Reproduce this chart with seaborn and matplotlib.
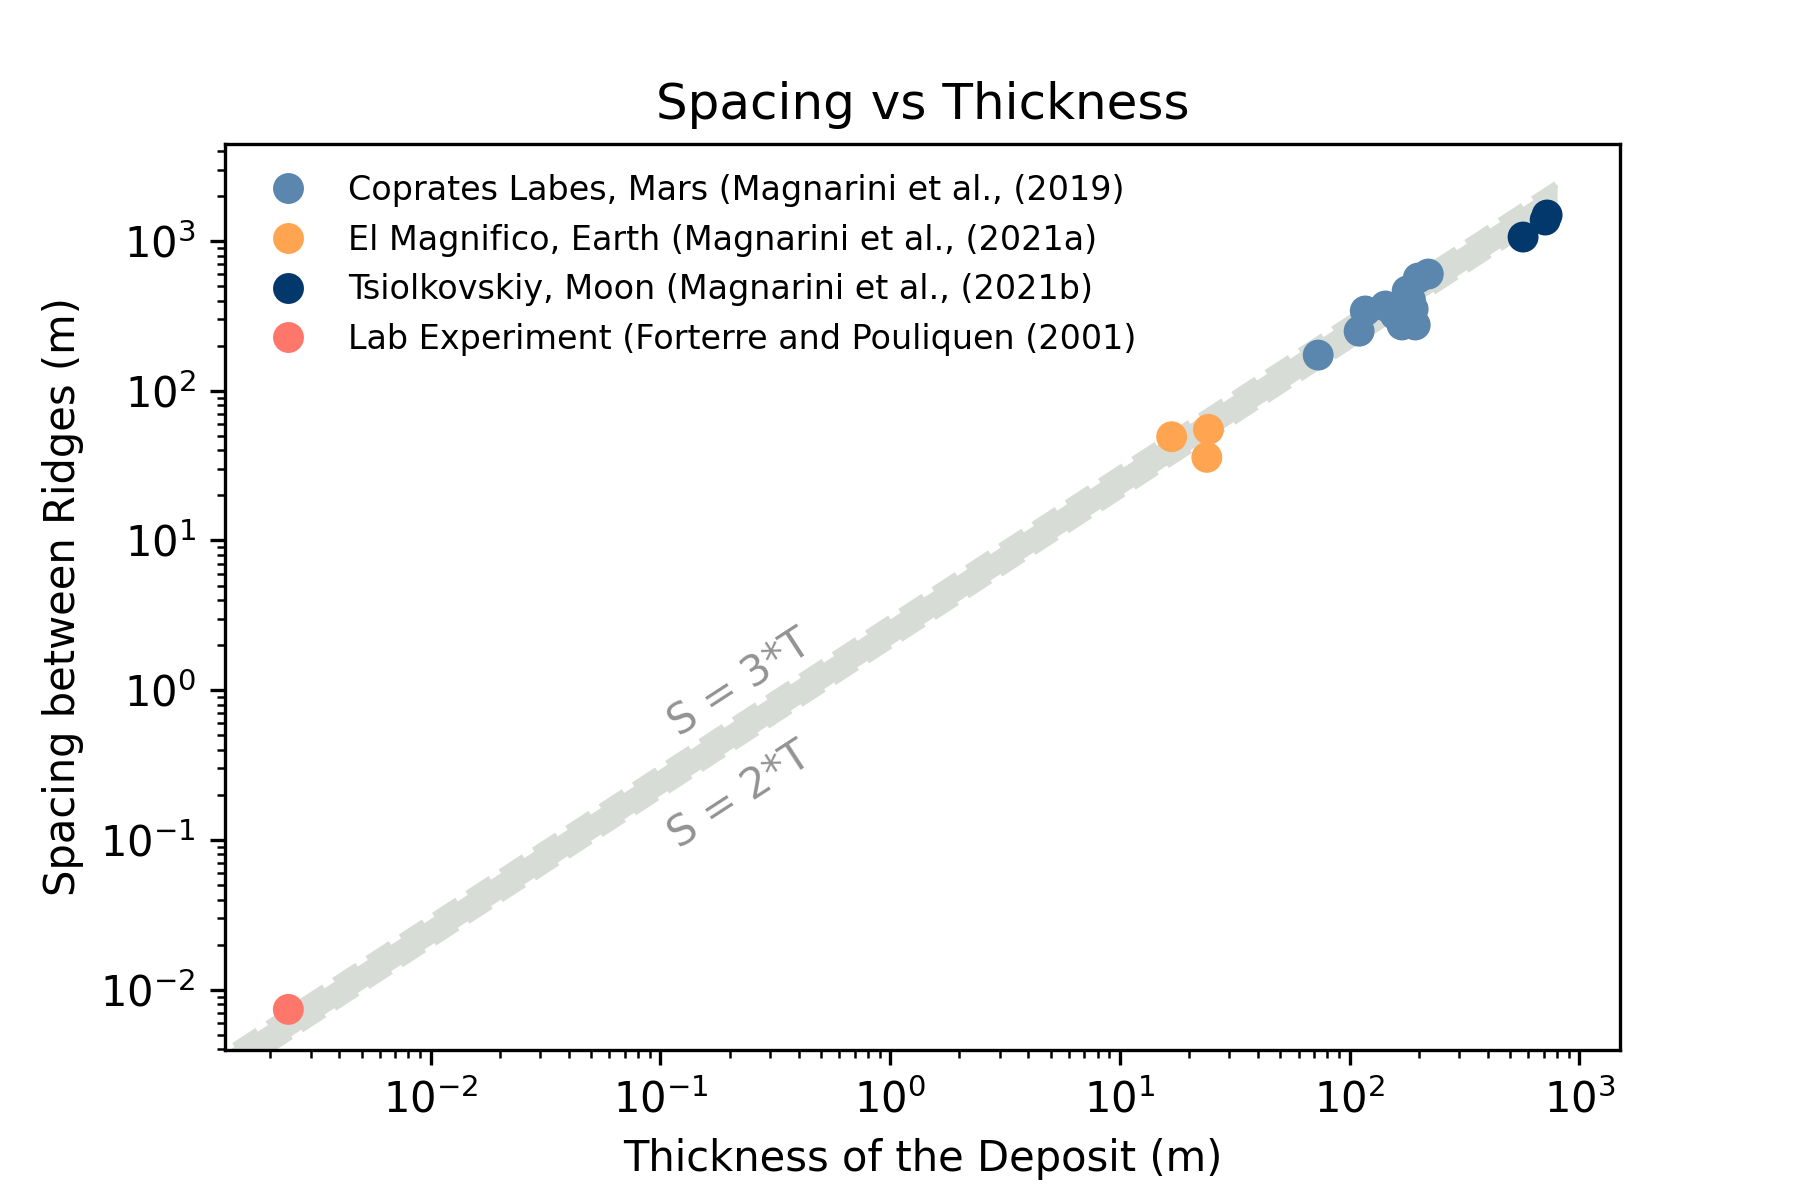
import numpy as np
import pandas as pd
import seaborn as sns
import matplotlib.pyplot as plt

# thickness (m) and ridge spacing (m)
mars_thickness = [73, 110, 117, 143, 158, 169, 184, 193, 189, 178, 199, 220]
mars_spacing = [173, 250, 341, 368, 321, 275, 404, 275, 351, 464, 566, 602]

earth_thickness = [16.8, 24.3, 23.9]
earth_spacing = [49.3, 55.2, 35.9]

moon_thickness = [569, 710, 724]
moon_spacing = [1063, 1381, 1492]

lab_thickness = [0.0024]
lab_spacing = [0.00738]

labels = [
    "Coprates Labes, Mars (Magnarini et al., (2019)",
    "El Magnifico, Earth (Magnarini et al., (2021a)",
    "Tsiolkovskiy, Moon (Magnarini et al., (2021b)",
    "Lab Experiment (Forterre and Pouliquen (2001)",
]
colors = ["#5b86ad", "#ffa552", "#03386c", "#ff766b"]

# range of the S = 2T .. S = 3T band
band_t = np.array([0.001, 800])

df = pd.concat([
    pd.DataFrame({"T": mars_thickness, "S": mars_spacing, "site": labels[0]}),
    pd.DataFrame({"T": earth_thickness, "S": earth_spacing, "site": labels[1]}),
    pd.DataFrame({"T": moon_thickness, "S": moon_spacing, "site": labels[2]}),
    pd.DataFrame({"T": lab_thickness, "S": lab_spacing, "site": labels[3]}),
], ignore_index=True)

fig, ax = plt.subplots(figsize=(6, 4), dpi=300)
fig.subplots_adjust(left=0.125, right=0.9, top=0.88, bottom=0.125)

band_col = "#d7dcd6"
ax.fill_between(band_t, 2 * band_t, 3 * band_t, color=band_col, lw=0, zorder=1)
ax.plot(band_t, 3 * band_t, "--", color=band_col, lw=1.8, zorder=1)
ax.plot(band_t, 2 * band_t, "--", color=band_col, lw=1.8, zorder=1)

sns.scatterplot(data=df, x="T", y="S", hue="site", hue_order=labels,
                palette=dict(zip(labels, colors)), s=55, linewidth=0,
                ax=ax, zorder=3)

ax.set_xscale("log")
ax.set_yscale("log")
ax.set_xlim(10 ** -2.8955, 10 ** 3.177)
ax.set_ylim(10 ** -2.403, 10 ** 3.648)

ax.text(0.22, 1.12, "S = 3*T", rotation=33, color="#939393", fontsize=10,
        ha="center", va="center")
ax.text(0.22, 0.2, "S = 2*T", rotation=33, color="#939393", fontsize=10,
        ha="center", va="center")

ax.set_title("Spacing vs Thickness", fontsize=12)
ax.set_xlabel("Thickness of the Deposit (m)")
ax.set_ylabel("Spacing between Ridges (m)")
ax.legend(loc="upper left", frameon=False, fontsize=8, markerscale=1.0)

plt.savefig("out.png", dpi=300)
